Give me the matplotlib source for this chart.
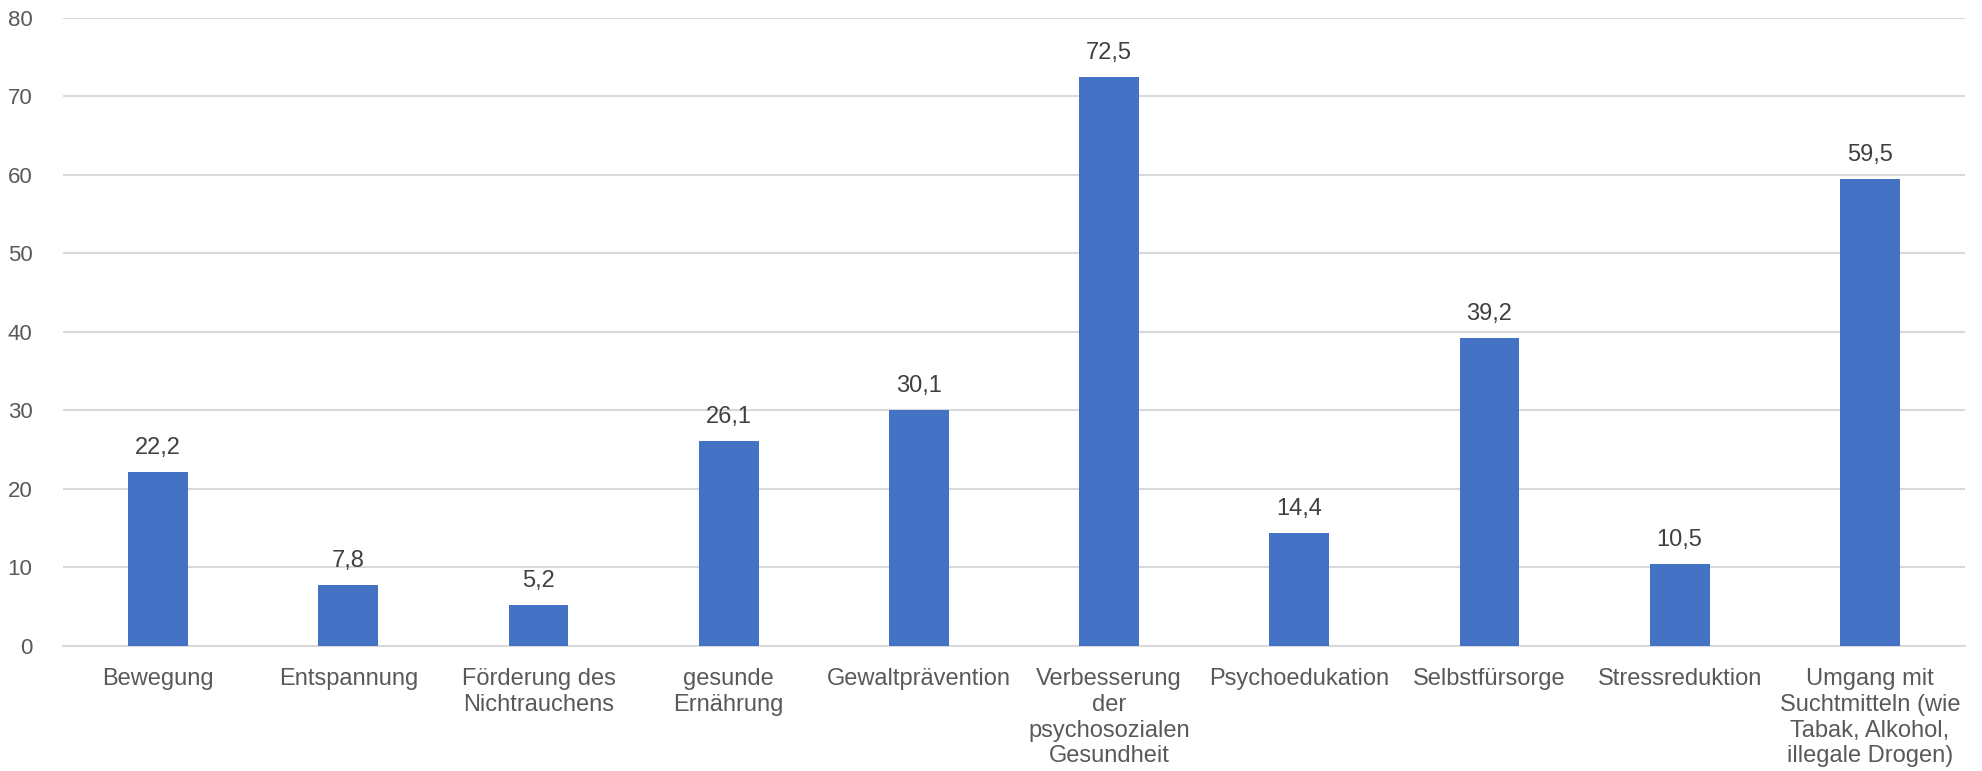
import matplotlib.pyplot as plt
import numpy as np

plt.rcParams["font.family"] = ["Liberation Sans", "DejaVu Sans"]

# Anteile je Themenbereich
categories = [
    "Bewegung",
    "Entspannung",
    "Förderung des\nNichtrauchens",
    "gesunde\nErnährung",
    "Gewaltprävention",
    "Verbesserung\nder\npsychosozialen\nGesundheit",
    "Psychoedukation",
    "Selbstfürsorge",
    "Stressreduktion",
    "Umgang mit\nSuchtmitteln (wie\nTabak, Alkohol,\nillegale Drogen)",
]
values = [22.2, 7.8, 5.2, 26.1, 30.1, 72.5, 14.4, 39.2, 10.5, 59.5]
y_ticks = [0, 10, 20, 30, 40, 50, 60, 70, 80]

fig = plt.figure(figsize=(19.82, 7.71), dpi=100)
ax = fig.add_axes([0.0318, 0.1621, 0.9596, 0.8149])

x = np.arange(len(categories))
ax.bar(x, values, width=0.315, color="#4472C4", zorder=3)

for xi, v in zip(x, values):
    ax.annotate(
        f"{v:.1f}".replace(".", ","),
        xy=(xi, v),
        xytext=(0, 13),
        textcoords="offset pixels",
        ha="center",
        va="bottom",
        fontsize=17,
        color="#404040",
    )

ax.set_xlim(-0.5, len(categories) - 0.5)
ax.set_ylim(0, 80)
ax.set_yticks(y_ticks)
ax.set_xticks(x)
ax.set_xticklabels(categories, fontsize=17, color="#595959", linespacing=1.22)
ax.tick_params(axis="y", labelsize=16, labelcolor="#595959", length=0, pad=22)
ax.tick_params(axis="x", length=0, pad=16)

ax.grid(axis="y", color="#D9D9D9", linewidth=1.5, zorder=0)
for side in ["top", "right", "left"]:
    ax.spines[side].set_visible(False)
ax.spines["bottom"].set_color("#D9D9D9")
ax.spines["bottom"].set_linewidth(1.5)

plt.savefig("out.png", dpi=100)
